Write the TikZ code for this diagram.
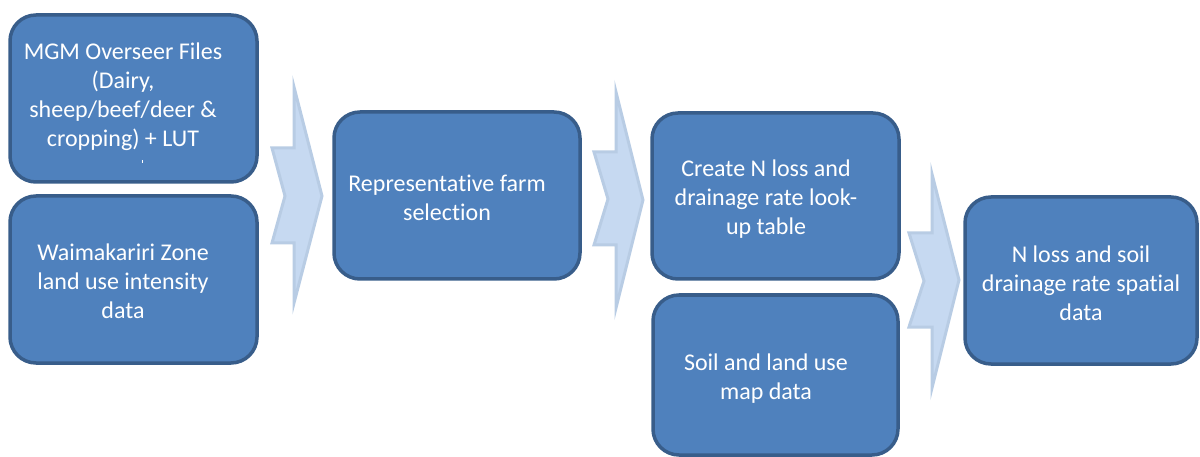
\documentclass[tikz,border=0pt]{standalone}
\usepackage{fontspec}
\setmainfont[Ligatures=NoCommon]{Carlito}
\definecolor{boxfill}{RGB}{79,129,189}
\definecolor{boxline}{RGB}{56,93,138}
\definecolor{arrfill}{RGB}{198,217,241}
\definecolor{arrline}{RGB}{184,204,228}
\tikzset{
  procbox/.style={draw=boxline, fill=boxfill, line width=3.5pt, rounded corners=26pt, inner sep=0pt},
  boxtext/.style={text=white, align=center, font=\fontsize{24}{29}\selectfont, inner sep=0pt},
  chevron/.style={draw=arrline, fill=arrfill, line width=3pt, line join=miter}
}
\begin{document}
\begin{tikzpicture}[x=1pt,y=-1pt]
\useasboundingbox (0,0) rectangle (1200,457);
% boxes
\draw[procbox] (10,15) rectangle (257,182) coordinate (b1);
\draw[procbox] (10,196) rectangle (257,363) coordinate (b2);
\draw[procbox] (334,112) rectangle (580,279) coordinate (b3);
\draw[procbox] (652,113) rectangle (899,279) coordinate (b4);
\draw[procbox] (653,295) rectangle (898,455) coordinate (b5);
\draw[procbox] (965,197) rectangle (1197,364) coordinate (b6);
% texts
\node[boxtext] (t1) at (123,97) {MGM Overseer Files\\(Dairy,\\sheep/beef/deer \&\\cropping) + LUT};
\draw[white, line width=0.8pt] (142,160) -- (142,163);
\node[boxtext] (t2) at (123,281) {Waimakariri Zone\\land use intensity\\data};
\node[boxtext] (t3) at (447,198) {Representative farm\\selection};
\node[boxtext] (t4) at (766,199) {Create N loss and\\drainage rate look-\\up table};
\node[boxtext] (t5) at (766,379) {Soil and land use\\map data};
\node[boxtext] (t6) at (1081,283) {N loss and soil\\drainage rate spatial\\data};
% chevron arrows
\draw[chevron] (294,87) -- (294,148) -- (272,148) -- (285,196) -- (272,243) -- (294,243) -- (294,303) -- (322,196) -- cycle;
\draw[chevron] (616,92) -- (616,152) -- (594,152) -- (608,199) -- (594,245) -- (616,245) -- (616,308) -- (643,200) -- cycle;
\draw[chevron] (932,174) -- (932,233) -- (909,233) -- (924,281) -- (909,327) -- (932,327) -- (932,388) -- (959,280) -- cycle;
\end{tikzpicture}
\end{document}
